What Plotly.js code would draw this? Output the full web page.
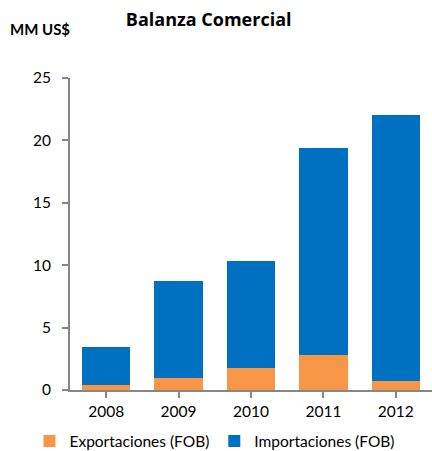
<!DOCTYPE html>
<html><head><meta charset="utf-8">
<script src="https://cdn.plot.ly/plotly-3.0.1.min.js"></script>
<style>body{margin:0;padding:0;background:#fff}#c{width:432px;height:451px}</style>
</head><body><div id="c"></div>
<script>
const years = ['2008','2009','2010','2011','2012'];
const exportaciones = [0.43, 0.93, 1.73, 2.83, 0.72];
const importaciones = [3.04, 7.79, 8.64, 16.58, 21.28];
const yTicks = [0,5,10,15,20,25];
const F = 'Lato, "Open Sans", sans-serif';
const data = [
  {type:'bar', name:'Exportaciones (FOB)', x:years, y:exportaciones, marker:{color:'#F79646'}},
  {type:'bar', name:'Importaciones (FOB)', x:years, y:importaciones, marker:{color:'#0070C0'}}
];
const layout = {
  width:432, height:451, barmode:'stack', bargap:0.33,
  margin:{l:70, r:0, t:78, b:61, autoexpand:false},
  paper_bgcolor:'#fff', plot_bgcolor:'#fff',
  font:{family:F, color:'#000', size:15},
  title:{text:'<b>Balanza Comercial</b>', x:0.483, xanchor:'center', y:0.956, yanchor:'middle', font:{size:18, family:'"Open Sans", sans-serif'}},
  annotations:[{text:'<b>MM US$</b>', xref:'paper', yref:'paper', x:-0.17, y:1.157, xanchor:'left', yanchor:'middle', showarrow:false, font:{size:15, family:F}}],
  xaxis:{showline:true, linecolor:'#868686', linewidth:2, ticks:'outside', tickcolor:'#868686', ticklen:6, tickwidth:2, tickson:'boundaries', tickfont:{size:15.5}, automargin:false},
  yaxis:{range:[0,25], tickvals:yTicks, showgrid:false, zeroline:false, showline:true, linecolor:'#868686', linewidth:2, ticks:'outside', tickcolor:'#868686', ticklen:6, tickwidth:2, ticklabelstandoff:8, tickfont:{size:15.5}, automargin:false},
  showlegend:true,
  legend:{orientation:'h', xref:'paper', yref:'paper', x:-0.112, y:-0.165, xanchor:'left', yanchor:'middle', traceorder:'normal', font:{size:15.5}, itemwidth:30}
};
Plotly.newPlot('c', data, layout, {displayModeBar:false, staticPlot:true});
</script></body></html>
